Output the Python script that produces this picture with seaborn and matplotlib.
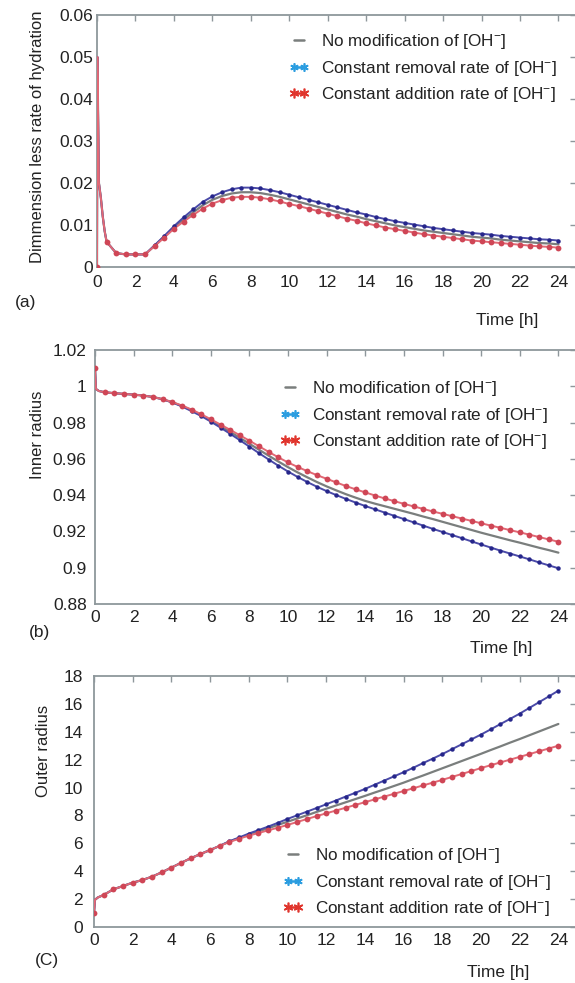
import numpy as np
import matplotlib
matplotlib.use("Agg")
import matplotlib.pyplot as plt
import seaborn as sns
from matplotlib.lines import Line2D

sns.set_theme(style="white")
plt.rcParams['font.family'] = ['Liberation Sans', 'DejaVu Sans']
plt.rcParams['mathtext.fontset'] = 'custom'
plt.rcParams['mathtext.rm'] = 'Liberation Sans'
plt.rcParams['mathtext.it'] = 'Liberation Sans:italic'
plt.rcParams['mathtext.bf'] = 'Liberation Sans:bold'

# ---------------- data ----------------
time = np.arange(0, 24.5, 0.5)          # marker grid [h]
xticks = list(range(0, 25, 2))

labels = ["No modification of [OH$^{-}$]",
          "Constant removal rate of [OH$^{-}$]",
          "Constant addition rate of [OH$^{-}$]"]

# (a) dimensionless rate of hydration
a_early_t = [0.02, 0.1, 0.2, 0.3, 0.4]
a_early_v = [0.05, 0.02, 0.0165, 0.012, 0.0085]
a_none = [0, 0.006, 0.0033, 0.003, 0.003, 0.003, 0.0051, 0.0072, 0.0094, 0.0113, 0.013, 0.0147,
          0.016, 0.0169, 0.0175, 0.0178, 0.0178, 0.0176, 0.0172, 0.0167, 0.0161, 0.0155, 0.0149,
          0.0143, 0.0137, 0.0131, 0.0125, 0.012, 0.0114, 0.0109, 0.0104, 0.0099, 0.0095, 0.0091,
          0.0087, 0.0084, 0.0081, 0.0078, 0.0075, 0.0072, 0.007, 0.0068, 0.0065, 0.0063, 0.0061,
          0.0059, 0.0057, 0.0056, 0.0054]
a_removal = [0, 0.006, 0.0033, 0.003, 0.003, 0.003, 0.0052, 0.0074, 0.0097, 0.0118, 0.0137, 0.0155,
             0.0168, 0.0178, 0.0185, 0.0189, 0.0189, 0.0187, 0.0183, 0.0178, 0.0172, 0.0166, 0.016,
             0.0154, 0.0148, 0.0142, 0.0136, 0.013, 0.0125, 0.0119, 0.0114, 0.0109, 0.0105, 0.0101,
             0.0097, 0.0093, 0.009, 0.0087, 0.0084, 0.0081, 0.0079, 0.0077, 0.0074, 0.0072, 0.007,
             0.0068, 0.0066, 0.0065, 0.0063]
a_addition = [0, 0.006, 0.0033, 0.003, 0.003, 0.003, 0.005, 0.007, 0.0091, 0.0108, 0.0124, 0.0139,
              0.0151, 0.0159, 0.0165, 0.0167, 0.0167, 0.0165, 0.0161, 0.0156, 0.015, 0.0145, 0.0139,
              0.0133, 0.0127, 0.0121, 0.0115, 0.011, 0.0104, 0.0099, 0.0094, 0.009, 0.0086, 0.0082,
              0.0078, 0.0075, 0.0072, 0.0069, 0.0066, 0.0063, 0.0061, 0.0059, 0.0057, 0.0055, 0.0053,
              0.0051, 0.0049, 0.0048, 0.0046]
a_yticks = [0, 0.01, 0.02, 0.03, 0.04, 0.05, 0.06]
a_yticklabels = ["0", "0.01", "0.02", "0.03", "0.04", "0.05", "0.06"]

# (b) inner radius
b_early_t = [0.05, 0.2]
b_early_v = [0.9985, 0.9974]
b_none = [1.01, 0.9967, 0.9962, 0.9958, 0.9954, 0.9949, 0.9941, 0.9929, 0.9912, 0.9892, 0.9868,
          0.9841, 0.9812, 0.9781, 0.9749, 0.9716, 0.9683, 0.9650, 0.9617, 0.9585, 0.9554, 0.9525,
          0.9498, 0.9472, 0.9448, 0.9426, 0.9405, 0.9386, 0.9368, 0.9353, 0.9339, 0.9325, 0.9311,
          0.9297, 0.9282, 0.9268, 0.9253, 0.9238, 0.9223, 0.9208, 0.9193, 0.9179, 0.9165, 0.9151,
          0.9138, 0.9124, 0.9110, 0.9097, 0.9083]
b_removal = [1.01, 0.9967, 0.9962, 0.9958, 0.9954, 0.9949, 0.9941, 0.9928, 0.9911, 0.9889, 0.9863,
             0.9836, 0.9805, 0.9772, 0.9738, 0.9703, 0.9667, 0.9631, 0.9596, 0.9562, 0.9530, 0.9500,
             0.9472, 0.9446, 0.9422, 0.9400, 0.9379, 0.9359, 0.9340, 0.9322, 0.9304, 0.9286, 0.9268,
             0.9250, 0.9232, 0.9214, 0.9197, 0.9180, 0.9163, 0.9145, 0.9128, 0.9111, 0.9094, 0.9078,
             0.9062, 0.9046, 0.9029, 0.9013, 0.8997]
b_addition = [1.01, 0.9967, 0.9962, 0.9958, 0.9954, 0.9949, 0.9941, 0.9929, 0.9913, 0.9894, 0.9872,
              0.9846, 0.9818, 0.9789, 0.9760, 0.9730, 0.9700, 0.9669, 0.9638, 0.9608, 0.9580, 0.9555,
              0.9532, 0.9510, 0.9490, 0.9470, 0.9450, 0.9432, 0.9415, 0.9398, 0.9382, 0.9367, 0.9352,
              0.9338, 0.9324, 0.9310, 0.9297, 0.9284, 0.9271, 0.9258, 0.9245, 0.9232, 0.9220, 0.9207,
              0.9195, 0.9182, 0.9169, 0.9156, 0.9143]
b_yticks = [0.88, 0.9, 0.92, 0.94, 0.96, 0.98, 1.0, 1.02]
b_yticklabels = ["0.88", "0.9", "0.92", "0.94", "0.96", "0.98", "1", "1.02"]

# (c) outer radius
c_early_t = [0.05, 0.2]
c_early_v = [1.95, 2.12]
c_none = [1.0, 2.3, 2.7, 2.94, 3.18, 3.37, 3.61, 3.92, 4.26, 4.6, 4.93, 5.23, 5.52, 5.82,
          6.13, 6.38, 6.62, 6.85, 7.08, 7.32, 7.55, 7.78, 8.01, 8.25, 8.48, 8.71, 8.94, 9.17,
          9.4, 9.64, 9.87, 10.11, 10.35, 10.61, 10.86, 11.12, 11.38, 11.64, 11.9, 12.16, 12.42,
          12.69, 12.95, 13.22, 13.48, 13.75, 14.02, 14.29, 14.56]
c_removal = [1.0, 2.3, 2.7, 2.94, 3.18, 3.37, 3.61, 3.92, 4.26, 4.6, 4.93, 5.23, 5.52, 5.82,
             6.15, 6.42, 6.7, 6.95, 7.2, 7.47, 7.75, 8.01, 8.27, 8.53, 8.8, 9.07, 9.35, 9.62,
             9.9, 10.2, 10.5, 10.8, 11.1, 11.42, 11.75, 12.07, 12.4, 12.75, 13.1, 13.45, 13.8,
             14.17, 14.55, 14.92, 15.3, 15.71, 16.12, 16.53, 16.95]
c_addition = [1.0, 2.3, 2.7, 2.94, 3.18, 3.37, 3.61, 3.92, 4.26, 4.6, 4.93, 5.23, 5.52, 5.82,
              6.1, 6.33, 6.55, 6.74, 6.93, 7.12, 7.32, 7.53, 7.74, 7.95, 8.15, 8.35, 8.55, 8.75,
              8.95, 9.15, 9.35, 9.55, 9.75, 9.95, 10.15, 10.35, 10.55, 10.76, 10.97, 11.18, 11.4,
              11.6, 11.8, 12.0, 12.2, 12.4, 12.6, 12.8, 13.0]
c_yticks = list(range(0, 19, 2))
c_yticklabels = [str(v) for v in c_yticks]

# ---------------- style ----------------
W, H = 575, 983
GRAY = "#7a7e7d"
BLUE_LINE, BLUE_MK = "#4a4aa8", "#26268a"
RED_LINE, RED_MK = "#e26874", "#cf4656"
SPINE = "#8e979b"
TXT = "#222222"
XMAX = 24.885

fig = plt.figure(figsize=(W / 100, H / 100), dpi=100)


def px_axes(left, top, bottom, right=575.5):
    return fig.add_axes([left / W, 1 - bottom / H, (right - left) / W, (bottom - top) / H])


def draw_panel(ax, early_t, early_v, none, removal, addition):
    for vals, lc, mc, ms, lw in [(none, GRAY, None, 0, 1.6),
                                 (removal, BLUE_LINE, BLUE_MK, 3.2, 1.4),
                                 (addition, RED_LINE, RED_MK, 4.2, 1.4)]:
        lt = np.concatenate([[time[0]], early_t, time[1:]])
        lv = np.concatenate([[vals[0]], early_v, vals[1:]])
        sns.lineplot(x=lt, y=lv, ax=ax, color=lc, lw=lw, sort=False, estimator=None,
                     legend=False, zorder=3)
        if mc is not None:
            sns.scatterplot(x=time, y=vals, ax=ax, color=mc, s=ms ** 2, linewidth=0,
                            legend=False, zorder=4)


def style_axes(ax, ylim, yticks, yticklabels, ypad, xpad):
    ax.set_xlim(0, XMAX)
    ax.set_ylim(*ylim)
    ax.set_xticks(xticks)
    ax.set_xticklabels([str(v) for v in xticks])
    ax.set_yticks(yticks)
    ax.set_yticklabels(yticklabels)
    ax.set_xlabel("")
    ax.set_ylabel("")
    for s in ax.spines.values():
        s.set_visible(True)
        s.set_color(SPINE)
        s.set_linewidth(1.3)
    ax.tick_params(direction="in", length=4, width=1, color=SPINE, labelcolor=TXT,
                   top=True, right=True, labelsize=12.5)
    ax.tick_params(axis="y", pad=ypad)
    ax.tick_params(axis="x", pad=xpad)
    ax.set_facecolor("white")


def add_legend(ax, x, y):
    handles = [Line2D([], [], color=GRAY, lw=1.8),
               Line2D([], [], color="#2b9de0", lw=1.8, marker=(6, 2, 0), ms=6, mew=1.2),
               Line2D([], [], color="#e0352d", lw=1.8, marker=(6, 2, 0), ms=7, mew=1.2)]
    leg = ax.legend(handles, labels, loc="center left", bbox_to_anchor=(x / W, 1 - y / H),
                    bbox_transform=fig.transFigure, frameon=False, fontsize=12.3,
                    handlelength=1.2, handletextpad=0.65, labelspacing=0.45, borderpad=0,
                    borderaxespad=0, numpoints=2)
    for t in leg.get_texts():
        t.set_color(TXT)


def ftext(x, y, s, **kw):
    fig.text(x / W, 1 - y / H, s, color=TXT, ha="center", va="center", **kw)


# panel (a)
ax_a = px_axes(97, 15, 267)
draw_panel(ax_a, a_early_t, a_early_v, a_none, a_removal, a_addition)
style_axes(ax_a, (0, 0.06), a_yticks, a_yticklabels, 3, 6)
add_legend(ax_a, 289, 68)
ftext(37.5, 137, "Dimmension less rate of hydration", rotation=90, fontsize=12)
ftext(507, 320, "Time [h]", fontsize=12.5)
ftext(26, 302, "(a)", fontsize=12.5)

# panel (b)
ax_b = px_axes(95, 350, 604)
draw_panel(ax_b, b_early_t, b_early_v, b_none, b_removal, b_addition)
style_axes(ax_b, (0.88, 1.02), b_yticks, b_yticklabels, 6, 4.5)
add_legend(ax_b, 280, 415)
ftext(37.5, 435, "Inner radius", rotation=90, fontsize=12)
ftext(501, 648, "Time [h]", fontsize=12.5)
ftext(40, 632, "(b)", fontsize=12.5)

# panel (c)
ax_c = px_axes(94, 676, 927)
draw_panel(ax_c, c_early_t, c_early_v, c_none, c_removal, c_addition)
style_axes(ax_c, (0, 18), c_yticks, c_yticklabels, 8, 4.5)
add_legend(ax_c, 283, 882)
ftext(43, 751, "Outer radius", rotation=90, fontsize=12)
ftext(498, 972, "Time [h]", fontsize=12.5)
ftext(47, 960, "(C)", fontsize=12.5)

fig.savefig("out.png", dpi=100, facecolor="white")
